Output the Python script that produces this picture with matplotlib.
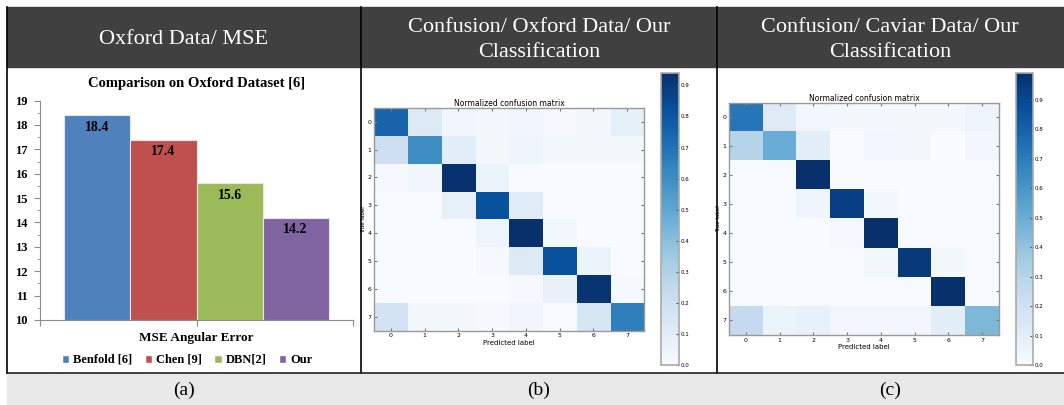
import numpy as np
import matplotlib
matplotlib.use("Agg")
import matplotlib.pyplot as plt
from matplotlib.patches import Rectangle, Patch
from matplotlib.lines import Line2D

# ---- data ----
methods = ["Benfold [6]", "Chen [9]", "DBN[2]", "Our"]
mse = [18.4, 17.4, 15.6, 14.2]
bar_colors = ["#4F81BD", "#C0504D", "#9BBB59", "#8064A2"]

classes = [0, 1, 2, 3, 4, 5, 6, 7]

cm_oxford = np.array([
    [0.75, 0.12, 0.03, 0.02, 0.03, 0.01, 0.02, 0.08],
    [0.20, 0.60, 0.10, 0.02, 0.04, 0.02, 0.02, 0.02],
    [0.01, 0.03, 0.93, 0.05, 0.00, 0.00, 0.00, 0.00],
    [0.00, 0.00, 0.07, 0.82, 0.11, 0.00, 0.00, 0.00],
    [0.00, 0.00, 0.00, 0.04, 0.94, 0.02, 0.00, 0.00],
    [0.00, 0.00, 0.00, 0.01, 0.12, 0.82, 0.05, 0.00],
    [0.00, 0.00, 0.00, 0.00, 0.01, 0.07, 0.92, 0.01],
    [0.17, 0.02, 0.02, 0.01, 0.03, 0.00, 0.15, 0.65],
])

cm_caviar = np.array([
    [0.72, 0.12, 0.03, 0.02, 0.02, 0.02, 0.02, 0.05],
    [0.30, 0.50, 0.10, 0.00, 0.03, 0.02, 0.00, 0.03],
    [0.00, 0.00, 0.99, 0.00, 0.00, 0.00, 0.00, 0.00],
    [0.00, 0.00, 0.04, 0.93, 0.02, 0.00, 0.00, 0.00],
    [0.00, 0.00, 0.00, 0.01, 0.99, 0.00, 0.00, 0.00],
    [0.00, 0.00, 0.00, 0.00, 0.02, 0.95, 0.02, 0.00],
    [0.00, 0.00, 0.00, 0.00, 0.00, 0.00, 0.99, 0.00],
    [0.25, 0.06, 0.07, 0.03, 0.03, 0.03, 0.10, 0.45],
])

headers = ["Oxford Data/ MSE",
           "Confusion/ Oxford Data/ Our\nClassification",
           "Confusion/ Caviar Data/ Our\nClassification"]
captions = ["(a)", "(b)", "(c)"]

W, H = 1064, 405
SERIF = "Liberation Serif"


def box(x0, y0, x1, y1):
    # pixel box (top-left origin) -> figure fraction rect
    return [x0 / W, 1 - y1 / H, (x1 - x0) / W, (y1 - y0) / H]


fig = plt.figure(figsize=(W / 100, H / 100), dpi=100)
fig.patch.set_facecolor("white")

# table frame
fig.add_artist(Rectangle((7 / W, 1 - 67 / H), (W - 7) / W, 60 / H,
                         transform=fig.transFigure, color="#404040", zorder=0))
fig.add_artist(Rectangle((7 / W, 0), (W - 7) / W, 1 - 373 / H,
                         transform=fig.transFigure, color="#e8e8e8", zorder=0))
for xv in [7, 361, 717]:
    fig.add_artist(Line2D([xv / W, xv / W], [1 - 7 / H, 1 - 373 / H],
                          transform=fig.transFigure, color="black", lw=1.2, zorder=5))
fig.add_artist(Line2D([7 / W, 1], [1 - 373 / H, 1 - 373 / H],
                      transform=fig.transFigure, color="#222222", lw=1.2, zorder=5))

col_centers = [184, 539, 890]
for cx, txt, cap in zip(col_centers, headers, captions):
    fig.text(cx / W, 1 - 40 / H, txt, ha="center", va="center", color="white",
             fontsize=16, family=SERIF, linespacing=1.4)
    fig.text(cx / W, 1 - 390 / H, cap, ha="center", va="center", color="black",
             fontsize=14, family=SERIF)

# ---- (a) bar chart ----
ax = fig.add_axes(box(40, 100.6, 353, 320))
bw = 0.211
xs = [0.5 + (i - 1.5) * bw for i in range(len(mse))]
ax.bar(xs, [v - 10 for v in mse], bottom=10, width=bw, color=bar_colors,
       edgecolor="#e6e6e6", linewidth=0.8)
for x, v in zip(xs, mse):
    ax.text(x, v - 0.5, f"{v:.1f}", ha="center", va="center",
            fontsize=10, fontweight="bold", family=SERIF)
ax.set_xlim(0, 1)
ax.set_ylim(10, 19)
ax.set_yticks(range(10, 20))
ax.set_yticks(np.arange(10, 19.01, 0.5), minor=True)
ax.set_xticks([0, 0.5, 1])
ax.set_xticklabels([])
for s in ["top", "right"]:
    ax.spines[s].set_visible(False)
for s in ["left", "bottom"]:
    ax.spines[s].set_color("#8c8c8c")
    ax.spines[s].set_linewidth(0.8)
ax.tick_params(axis="y", which="major", length=4, direction="out", color="#8c8c8c", pad=5)
ax.tick_params(axis="y", which="minor", length=2, direction="out", color="#8c8c8c")
ax.tick_params(axis="x", length=4, direction="out", color="#8c8c8c")
for lbl in ax.get_yticklabels():
    lbl.set_fontfamily(SERIF)
    lbl.set_fontweight("bold")
    lbl.set_fontsize(9)
ax.set_title("Comparison on Oxford Dataset [6]", fontsize=10.5, fontweight="bold",
             family=SERIF, pad=10)
ax.text(0.5, -0.083, "MSE Angular Error", transform=ax.transAxes, ha="center",
        va="center", fontsize=9.5, fontweight="bold", family=SERIF)
handles = [Patch(facecolor=c, edgecolor="white") for c in bar_colors]
fig.legend(handles, methods, loc="center", bbox_to_anchor=(187 / W, 1 - 360 / H),
           ncol=4, frameon=False, handlelength=0.6, handleheight=0.6, handletextpad=0.3,
           columnspacing=1.0, prop={"family": SERIF, "weight": "bold", "size": 9})


# ---- (b), (c) confusion matrices ----
def confusion(mat, mbox, cbox, title_pad):
    cax_m = fig.add_axes(box(*mbox))
    im = cax_m.imshow(mat, interpolation="nearest", cmap="Blues", aspect="auto")
    cax_m.set_title("Normalized confusion matrix", fontsize=5.5, pad=title_pad)
    cax_m.set_xticks(range(len(classes)))
    cax_m.set_yticks(range(len(classes)))
    cax_m.set_xticklabels(classes)
    cax_m.set_yticklabels(classes)
    cax_m.tick_params(labelsize=4.5, length=2, direction="in", top=True, right=True,
                      color="#777777", pad=2)
    cax_m.set_xlabel("Predicted label", fontsize=5, labelpad=1)
    cax_m.set_ylabel("True label", fontsize=4, labelpad=1)
    for s in cax_m.spines.values():
        s.set_color("#999999")
        s.set_linewidth(1.0)
    cb_ax = fig.add_axes(box(*cbox))
    cb = fig.colorbar(im, cax=cb_ax)
    cb.set_ticks(np.arange(0, 0.91, 0.1))
    cb.ax.tick_params(labelsize=4, length=2, direction="in", color="#555555", pad=1)
    cb.outline.set_edgecolor("#aaaaaa")
    cb.outline.set_linewidth(1.2)


confusion(cm_oxford, (374, 107.7, 644, 330.7), (661, 73, 679, 365), 1)
confusion(cm_caviar, (729, 102.7, 999, 335), (1016, 73, 1033, 365), 1)

fig.savefig("out.png", dpi=100)
